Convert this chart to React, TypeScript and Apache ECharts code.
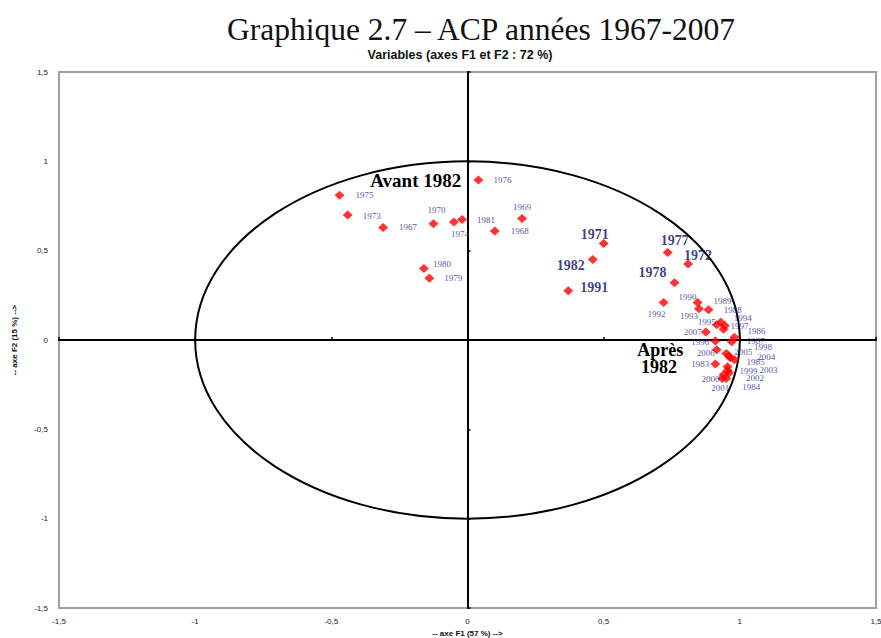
import React, { useEffect, useRef } from "react";
import * as echarts from "echarts";

const years = [
  "1967", "1968", "1969", "1970", "1971", "1972", "1973", "1974", "1975", "1976",
  "1977", "1978", "1979", "1980", "1981", "1982", "1983", "1984", "1985", "1986",
  "1987", "1988", "1989", "1990", "1991", "1992", "1993", "1994", "1995", "1996",
  "1997", "1998", "1999", "2000", "2001", "2002", "2003", "2004", "2005", "2006", "2007",
];
const f1 = [
  -0.31, 0.1, 0.2, -0.125, 0.5, 0.81, -0.44, -0.05, -0.47, 0.04,
  0.735, 0.76, -0.14, -0.16, -0.02, 0.46, 0.91, 0.95, 0.98, 0.98,
  0.97, 0.93, 0.885, 0.845, 0.37, 0.72, 0.85, 0.945, 0.915, 0.91,
  0.94, 0.96, 0.955, 0.94, 0.935, 0.96, 0.955, 0.965, 0.95, 0.915, 0.875,
];
const f2 = [
  0.63, 0.61, 0.68, 0.65, 0.54, 0.425, 0.7, 0.66, 0.81, 0.895,
  0.49, 0.32, 0.345, 0.4, 0.675, 0.45, -0.135, -0.215, -0.11, 0.015,
  -0.01, 0.1, 0.17, 0.21, 0.275, 0.21, 0.175, 0.08, 0.085, -0.005,
  0.06, -0.09, -0.15, -0.195, -0.215, -0.185, -0.17, -0.1, -0.075, -0.055, 0.045,
];
const highlightedYears = ["1971", "1972", "1977", "1978", "1982", "1991"];
const tickLabels = ["-1,5", "-1", "-0,5", "0", "0,5", "1", "1,5"];

// label placement (pixel offsets from each marker) — style layer
const labelOffsets: Record<string, [number, number]> = {
  "1967": [25, 0], "1968": [25, 0], "1969": [0, -12], "1970": [3, -14], "1971": [-9, -9],
  "1972": [10, -9], "1973": [24, 1], "1974": [6, 12], "1975": [25, 0], "1976": [24, 0],
  "1977": [7, -12], "1978": [-22, -10], "1979": [24, 0], "1980": [18, -5], "1981": [24, 1],
  "1982": [-22, 6], "1983": [-15, 0], "1984": [25, 9], "1985": [21, 2], "1986": [22, -6],
  "1987": [24, -1], "1988": [12, -12], "1989": [14, -9], "1990": [-10, -5], "1991": [26, -3],
  "1992": [-7, 12], "1993": [-10, 7], "1994": [18, -8], "1995": [-10, -3], "1996": [-15, 1],
  "1997": [16, -3], "1998": [34, -9], "1999": [21, 4], "2000": [-13, 4], "2001": [-2, 10],
  "2002": [26, 5], "2003": [41, 0], "2004": [36, -1], "2005": [17, -1], "2006": [-11, 3],
  "2007": [-13, 0],
};

const fmt = (v: number) => {
  const idx = [-1.5, -1, -0.5, 0, 0.5, 1, 1.5].findIndex((t) => Math.abs(t - v) < 1e-9);
  return idx >= 0 ? tickLabels[idx] : String(v).replace(".", ",");
};

export default function App() {
  const ref = useRef<HTMLDivElement>(null);
  useEffect(() => {
    if (!ref.current) return;
    const chart = echarts.init(ref.current, null, { renderer: "svg" });
    const data = years.map((y, i) => {
      const hi = highlightedYears.includes(y);
      return {
        name: y,
        value: [f1[i], f2[i]],
        label: {
          fontSize: hi ? 14 : 9,
          fontWeight: hi ? "bold" : "normal",
          color: hi ? "#0e0e66" : "#262690",
        },
      };
    });
    const axisLabel = {
      fontSize: 8,
      color: "#222",
      fontFamily: "Liberation Sans, Arial, sans-serif",
      formatter: fmt,
    };
    const option: any = {
      animation: false,
      backgroundColor: "#fff",
      title: [
        {
          text: "Graphique 2.7 – ACP années 1967-2007",
          left: 476,
          top: 8,
          textAlign: "center",
          textStyle: {
            fontFamily: "Liberation Serif, serif",
            fontSize: 31.5,
            fontWeight: "normal",
            color: "#111",
          },
        },
        {
          text: "Variables (axes F1 et F2 : 72 %)",
          left: 455,
          top: 43,
          textAlign: "center",
          textStyle: {
            fontFamily: "Liberation Sans, Arial, sans-serif",
            fontSize: 12.5,
            fontWeight: "bold",
            color: "#111",
          },
        },
      ],
      grid: {
        left: 59,
        right: 5,
        top: 72,
        bottom: 30,
        outerBoundsMode: "none",
        containLabel: false,
        show: true,
        borderColor: "#a0a0a0",
        borderWidth: 2,
        backgroundColor: "#fff",
      },
      xAxis: [
        {
          type: "value",
          min: -1.5,
          max: 1.5,
          interval: 0.5,
          position: "bottom",
          axisLine: { show: false, onZero: false },
          axisTick: { show: false },
          splitLine: { show: false },
          axisLabel: { ...axisLabel, margin: 9 },
          name: "-- axe F1 (57 %) -->",
          nameLocation: "middle",
          nameGap: 19,
          nameTextStyle: {
            fontSize: 8,
            fontWeight: "bold",
            color: "#111",
            fontFamily: "Liberation Sans, Arial, sans-serif",
          },
        },
        {
          type: "value",
          min: -1.5,
          max: 1.5,
          interval: 0.5,
          position: "top",
          axisLine: { show: true, onZero: true, lineStyle: { color: "#000", width: 2 } },
          axisTick: { show: true, length: 3, lineStyle: { color: "#000", width: 1.5 } },
          axisLabel: { show: false },
          splitLine: { show: false },
        },
      ],
      yAxis: [
        {
          type: "value",
          min: -1.5,
          max: 1.5,
          interval: 0.5,
          position: "left",
          axisLine: { show: false, onZero: false },
          axisTick: { show: false },
          splitLine: { show: false },
          axisLabel: { ...axisLabel, margin: 11 },
          name: "-- axe F2 (15 %) -->",
          nameLocation: "middle",
          nameGap: 41,
          nameTextStyle: {
            fontSize: 8,
            fontWeight: "bold",
            color: "#111",
            fontFamily: "Liberation Sans, Arial, sans-serif",
          },
        },
        {
          type: "value",
          min: -1.5,
          max: 1.5,
          interval: 0.5,
          position: "right",
          axisLine: { show: true, onZero: true, lineStyle: { color: "#000", width: 2 } },
          axisTick: { show: true, length: 3, lineStyle: { color: "#000", width: 1.5 } },
          axisLabel: { show: false },
          splitLine: { show: false },
        },
      ],
      series: [
        {
          type: "scatter",
          xAxisIndex: 0,
          yAxisIndex: 0,
          symbol: "diamond",
          symbolSize: [10, 9],
          itemStyle: { color: "#ff0000" },
          z: 5,
          label: {
            show: true,
            position: "inside",
            formatter: "{b}",
            fontFamily: "Liberation Serif, serif",
            align: "center",
            verticalAlign: "middle",
          },
          labelLayout: (p: any) => {
            const o = labelOffsets[years[p.dataIndex]] || [20, 0];
            return { dx: o[0], dy: o[1], hideOverlap: false };
          },
          data,
        },
      ],
    };
    chart.setOption(option);

    const c = chart.convertToPixel({ gridIndex: 0 }, [0, 0]) as number[];
    const px1 = chart.convertToPixel({ gridIndex: 0 }, [1, 1]) as number[];
    const rx = px1[0] - c[0];
    const ry = c[1] - px1[1];
    const avant = chart.convertToPixel({ gridIndex: 0 }, [-0.19, 0.895]) as number[];
    const apres1 = chart.convertToPixel({ gridIndex: 0 }, [0.708, -0.058]) as number[];
    const apres2 = chart.convertToPixel({ gridIndex: 0 }, [0.703, -0.153]) as number[];
    const annStyle = {
      fontFamily: "Liberation Serif, serif",
      fontSize: 19,
      fontWeight: "bold",
      fill: "#000",
      align: "center",
      verticalAlign: "middle",
    };
    chart.setOption({
      graphic: [
        {
          type: "ellipse",
          shape: { cx: c[0], cy: c[1], rx, ry },
          style: { fill: "none", stroke: "#000", lineWidth: 2 },
          z: 3,
          silent: true,
        },
        {
          type: "text",
          x: avant[0],
          y: avant[1],
          z: 6,
          style: { ...annStyle, text: "Avant 1982" },
        },
        {
          type: "text",
          x: apres1[0],
          y: apres1[1],
          z: 6,
          style: { ...annStyle, fontSize: 18, text: "Après" },
        },
        {
          type: "text",
          x: apres2[0],
          y: apres2[1],
          z: 6,
          style: { ...annStyle, fontSize: 18, text: "1982" },
        },
      ],
    });
    return () => chart.dispose();
  }, []);
  return (
    <div
      ref={ref}
      style={{ position: "fixed", left: 0, top: 0, width: 881, height: 638 }}
    />
  );
}
